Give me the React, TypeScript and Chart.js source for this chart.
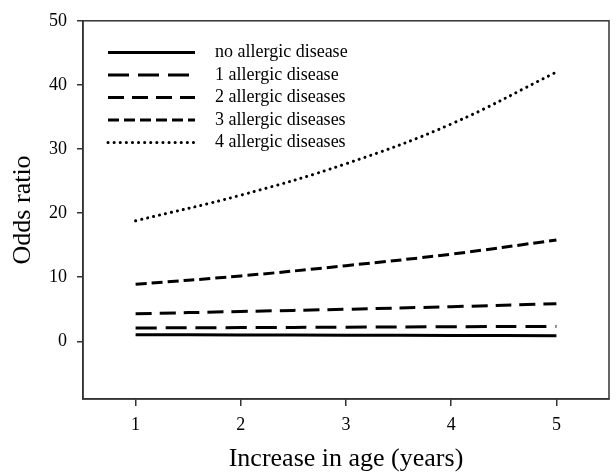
import React, { useEffect, useRef } from "react";
import { Chart, registerables } from "chart.js";

Chart.register(...registerables);

const ages = [1, 2, 3, 4, 5];
const yTicks = [0, 10, 20, 30, 40, 50];
const seriesNames = [
  "no allergic disease",
  "1 allergic disease",
  "2 allergic diseases",
  "3 allergic diseases",
  "4 allergic diseases",
];
const noAllergic = [1.04, 1.0, 0.96, 0.92, 0.88];
const oneAllergic = [2.08, 2.14, 2.2, 2.27, 2.33];
const twoAllergic = [4.3, 4.65, 5.0, 5.4, 5.86];
const threeAllergic = [8.9, 10.2, 11.8, 13.6, 15.8];
const fourAllergic = [18.8, 22.8, 27.7, 33.9, 42.0];

const seriesValues = [noAllergic, oneAllergic, twoAllergic, threeAllergic, fourAllergic];
const dashes: number[][] = [[], [21, 9], [16, 8], [11, 5], [0.1, 6]];
const caps = ["butt", "butt", "butt", "butt", "round"];

const SERIF = "'Liberation Serif', 'Times New Roman', serif";

const frameAndLegend = {
  id: "frameAndLegend",
  afterDraw(chart: any) {
    const { ctx, chartArea } = chart;
    ctx.save();
    ctx.strokeStyle = "#333";
    ctx.lineWidth = 1.5;
    ctx.strokeRect(chartArea.left, chartArea.top, chartArea.right - chartArea.left, chartArea.bottom - chartArea.top);
    const x0 = chartArea.left + 25;
    const x1 = chartArea.left + 112;
    const tx = chartArea.left + 132;
    chart.data.datasets.forEach((ds: any, i: number) => {
      const y = chartArea.top + 31.7 + i * 22.5;
      ctx.beginPath();
      ctx.setLineDash(ds.borderDash || []);
      ctx.lineCap = ds.borderCapStyle || "butt";
      ctx.lineWidth = ds.borderWidth;
      ctx.strokeStyle = ds.borderColor;
      ctx.moveTo(x0, y);
      ctx.lineTo(x1, y);
      ctx.stroke();
      ctx.setLineDash([]);
      ctx.fillStyle = "#000";
      ctx.font = "18px " + SERIF;
      ctx.textAlign = "left";
      ctx.textBaseline = "middle";
      ctx.fillText(ds.label, tx, y);
    });
    ctx.restore();
  },
};

export default function App() {
  const ref = useRef<HTMLCanvasElement>(null);
  useEffect(() => {
    if (!ref.current) return;
    const chart = new Chart(ref.current, {
      type: "line",
      data: {
        datasets: seriesNames.map((name, i) => ({
          label: name,
          data: ages.map((a, j) => ({ x: a, y: seriesValues[i][j] })),
          borderColor: "#000",
          borderWidth: 3,
          borderDash: dashes[i],
          borderCapStyle: caps[i] as any,
          pointRadius: 0,
          fill: false,
          tension: 0.4,
        })),
      },
      options: {
        responsive: false,
        animation: false,
        layout: { padding: { top: 20, right: 7, left: 0, bottom: 0 } },
        plugins: { legend: { display: false }, tooltip: { enabled: false } },
        scales: {
          x: {
            type: "linear",
            min: 0.5,
            max: 5.5,
            afterBuildTicks: (s: any) => {
              s.ticks = ages.map((v) => ({ value: v }));
            },
            afterFit: (s: any) => {
              s.height = 76;
            },
            grid: { drawOnChartArea: false, drawTicks: true, tickLength: 7, color: "#333", lineWidth: 1.5 },
            border: { display: true, color: "#333", width: 1.5 },
            ticks: { padding: 8, color: "#000", font: { family: SERIF, size: 18 }, maxRotation: 0 },
            title: { display: true, text: "Increase in age (years)", color: "#000", font: { family: SERIF, size: 26 }, padding: { top: 0, bottom: 0 } },
          },
          y: {
            type: "linear",
            min: -9,
            max: 50,
            afterBuildTicks: (s: any) => {
              s.ticks = yTicks.map((v) => ({ value: v }));
            },
            afterFit: (s: any) => {
              s.width = 83;
            },
            grid: { drawOnChartArea: false, drawTicks: true, tickLength: 6, color: "#333", lineWidth: 1.5 },
            border: { display: true, color: "#333", width: 1.5 },
            ticks: { padding: 10, color: "#000", font: { family: SERIF, size: 18 } },
            title: { display: true, text: "Odds ratio", color: "#000", font: { family: SERIF, size: 26 }, padding: { top: 8, bottom: 0 } },
          },
        },
      },
      plugins: [frameAndLegend],
    });
    return () => chart.destroy();
  }, []);
  return (
    <div style={{ position: "fixed", left: 0, top: 0, width: 616, height: 475, background: "#fff" }}>
      <canvas ref={ref} width={616} height={475} />
    </div>
  );
}
